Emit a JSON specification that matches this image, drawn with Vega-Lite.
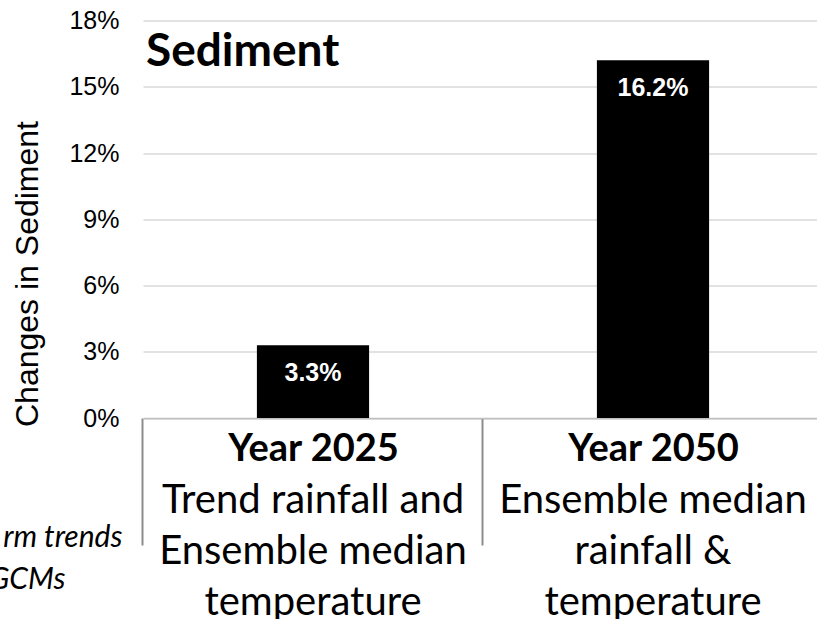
{
  "$schema": "https://vega.github.io/schema/vega-lite/v6.json",
  "width": 674,
  "height": 397.5,
  "autosize": {"type": "none"},
  "padding": {"left": 143, "top": 20.5, "right": 0, "bottom": 201},
  "background": "white",
  "config": {"view": {"stroke": null}},
  "title": {
    "text": "Sediment",
    "anchor": "start",
    "frame": "group",
    "orient": "top",
    "offset": -103,
    "baseline": "alphabetic",
    "font": "Lato",
    "fontSize": 46,
    "fontWeight": "bold",
    "color": "black",
    "dx": 3
  },
  "data": {
    "values": [
      {"scenario": "Year 2025|Trend rainfall and|Ensemble median|temperature", "change": 0.033},
      {"scenario": "Year 2050|Ensemble median|rainfall &|temperature", "change": 0.162}
    ]
  },
  "encoding": {
    "y": {
      "field": "change",
      "type": "quantitative",
      "scale": {"domain": [0, 0.18], "nice": false},
      "axis": {
        "orient": "left",
        "values": [0, 0.03, 0.06, 0.09, 0.12, 0.15, 0.18],
        "format": ".0%",
        "domain": false,
        "ticks": false,
        "grid": true,
        "gridColor": "#d9d9d9",
        "gridWidth": 1.5,
        "labelFont": "Liberation Sans",
        "labelFontSize": 25,
        "labelColor": "black",
        "labelPadding": 24,
        "title": "Changes in Sediment",
        "titleFont": "Liberation Sans",
        "titleFontSize": 32,
        "titleFontWeight": "normal",
        "titleColor": "black",
        "titleAlign": "center",
        "titleBaseline": "alphabetic",
        "titleX": -106,
        "titleY": 253
      }
    }
  },
  "layer": [
    {
      "mark": {"type": "bar", "color": "black"},
      "encoding": {
        "x": {
          "field": "scenario",
          "type": "nominal",
          "sort": null,
          "scale": {"range": [0, 680], "paddingInner": 0.67, "paddingOuter": 0.335},
          "axis": {
            "orient": "bottom",
            "grid": false,
            "domain": true,
            "domainColor": "#bfbfbf",
            "domainWidth": 1.5,
            "ticks": true,
            "bandPosition": 0,
            "tickOffset": -115,
            "tickSize": 127,
            "tickColor": "#8c8c8c",
            "tickWidth": 2,
            "labelAngle": 0,
            "labelOffset": 115,
            "labelExpr": "split(datum.label, '|')[0]",
            "labelFont": "Lato",
            "labelFontWeight": "bold",
            "labelFontSize": 38,
            "labelColor": "black",
            "labelBaseline": "alphabetic",
            "labelPadding": -85,
            "labelLimit": 0,
            "labelOverlap": false,
            "title": "rm trends",
            "titleFont": "Lato",
            "titleFontStyle": "italic",
            "titleFontWeight": "normal",
            "titleFontSize": 30,
            "titleColor": "black",
            "titleAlign": "right",
            "titleBaseline": "alphabetic",
            "titleX": -21,
            "titleY": 128
          }
        }
      }
    },
    {
      "mark": {
        "type": "text",
        "color": "white",
        "font": "Liberation Sans",
        "fontWeight": "bold",
        "fontSize": 25,
        "baseline": "alphabetic",
        "dy": 36
      },
      "encoding": {
        "x": {
          "field": "scenario",
          "type": "nominal",
          "sort": null,
          "axis": {
            "orient": "bottom",
            "grid": false,
            "domain": false,
            "ticks": false,
            "labelAngle": 0,
            "labelExpr": "slice(split(datum.label, '|'), 1)",
            "labelFont": "Lato",
            "labelFontSize": 40,
            "labelColor": "black",
            "labelBaseline": "alphabetic",
            "labelLineHeight": 51,
            "labelPadding": 94,
            "labelLimit": 0,
            "labelOverlap": false,
            "title": "GCMs",
            "titleFont": "Lato",
            "titleFontStyle": "italic",
            "titleFontWeight": "normal",
            "titleFontSize": 30,
            "titleColor": "black",
            "titleAlign": "right",
            "titleBaseline": "alphabetic",
            "titleX": -78,
            "titleY": 170
          }
        },
        "text": {"field": "change", "type": "quantitative", "format": ".1%"}
      }
    }
  ],
  "resolve": {"axis": {"x": "independent"}}
}
